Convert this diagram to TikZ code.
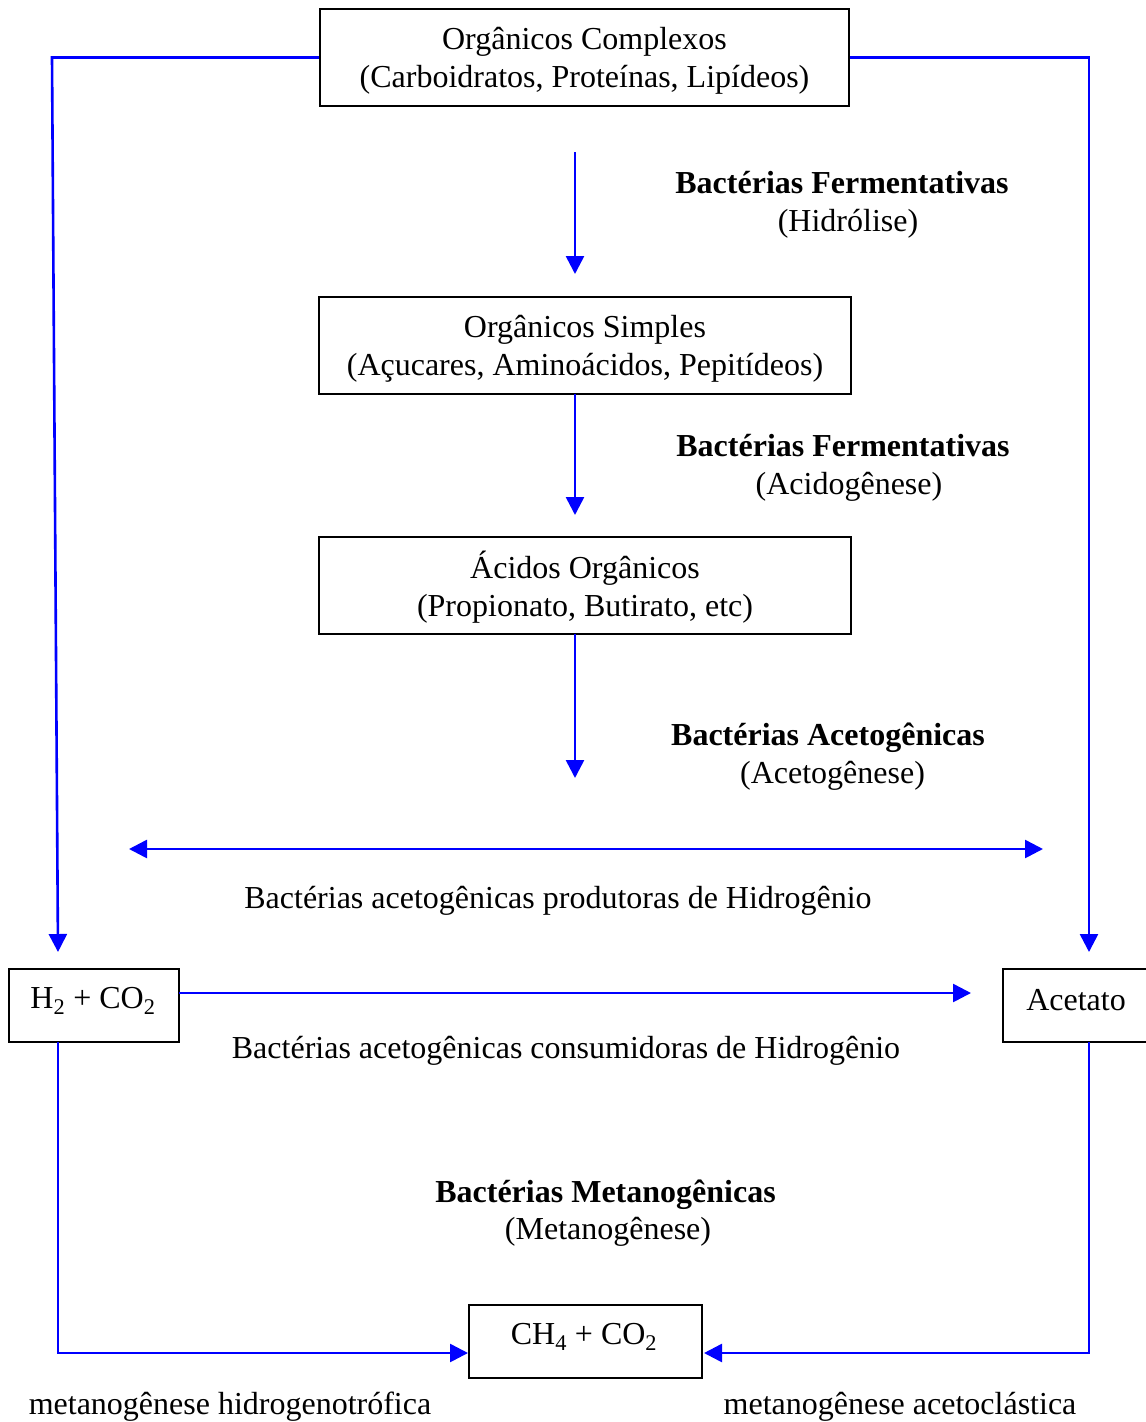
\documentclass[tikz,border=0pt]{standalone}
\usepackage{fontspec}
\setmainfont{Liberation Serif}
\usetikzlibrary{arrows.meta}
\begin{document}
\begin{tikzpicture}[x=1pt,y=-1pt,
  every node/.style={font=\fontsize{32}{37.5}\selectfont, inner sep=0pt, align=center},
  box/.style={draw=black, line width=2.5pt},
  link/.style={draw=blue, line width=2.6pt},
  arr/.style={link, -{Triangle[length=18pt,width=18pt]}},
  darr/.style={link, {Triangle[length=18pt,width=18pt]}-{Triangle[length=18pt,width=18pt]}},
  lbl/.style={}]
\useasboundingbox (0,0) rectangle (1146,1422);
% boxes
\node[box, minimum width=529pt, minimum height=97pt] (b1) at (584.5,57.5) {};
\node[box, minimum width=532pt, minimum height=97pt] (b2) at (585,345.5) {};
\node[box, minimum width=532pt, minimum height=97pt] (b3) at (585,585.5) {};
\node[box, minimum width=170pt, minimum height=73pt] (h2) at (94,1005.5) {};
\node[box, minimum width=146pt, minimum height=73pt] (ac) at (1076,1005.5) {};
\node[box, minimum width=233pt, minimum height=73pt] (ch4) at (585.5,1341.5) {};
% box texts
\node (t1) at (584.5,61) {Orgânicos Complexos\\(Carboidratos, Proteínas, Lipídeos)};
\node (t2) at (585,349) {Orgânicos Simples\\(Açucares, Aminoácidos, Pepitídeos)};
\node (t3) at (585,587) {Ácidos Orgânicos\\(Propionato, Butirato, etc)};
\node (t4) at (93,1001) {H\textsubscript{2} + CO\textsubscript{2}};
\node (t5) at (1076,1000) {Acetato};
\node (t6) at (584,1337) {CH\textsubscript{4} + CO\textsubscript{2}};
% labels
\node[lbl] (l1) at (842,205) {\textbf{Bactérias Fermentativas}\\\hspace*{12pt}(Hidrólise)};
\node[lbl] (l2) at (843,468) {\textbf{Bactérias Fermentativas}\\\hspace*{12pt}(Acidogênese)};
\node[lbl] (l3) at (828,756.5) {\textbf{Bactérias Acetogênicas}\\\hspace*{9pt}(Acetogênese)};
\node[lbl] (l4) at (558,901) {Bactérias acetogênicas produtoras de Hidrogênio};
\node[lbl] (l5) at (566,1051) {Bactérias acetogênicas consumidoras de Hidrogênio};
\node[lbl] (l6) at (605.5,1213) {\textbf{Bactérias Metanogênicas}\\\hspace*{5pt}(Metanogênese)};
\node[lbl] (l7) at (230,1407) {metanogênese hidrogenotrófica};
\node[lbl] (l8) at (900,1407) {metanogênese acetoclástica};
% coordinates
\coordinate (lt) at (52,57.5);
\coordinate (lb) at (58,952);
\coordinate (rt) at (1089,57.5);
\coordinate (rb) at (1089,952);
\coordinate (a1s) at (575,152);
\coordinate (a1e) at (575,274);
\coordinate (a2s) at (575,394);
\coordinate (a2e) at (575,515);
\coordinate (a3s) at (575,634);
\coordinate (a3e) at (575,778);
\coordinate (dl) at (129,849);
\coordinate (dr) at (1043,849);
\coordinate (hs) at (179,993);
\coordinate (he) at (971,993);
\coordinate (hd1) at (58,1042);
\coordinate (hd2) at (58,1353);
\coordinate (hd3) at (468,1353);
\coordinate (ad1) at (1089,1042);
\coordinate (ad2) at (1089,1353);
\coordinate (ad3) at (704,1353);
% connectors
\draw[arr] (b1.west) -- (lt) -- (lb);
\draw[arr] (b1.east) -- (rt) -- (rb);
\draw[arr] (a1s) -- (a1e);
\draw[arr] (a2s) -- (a2e);
\draw[arr] (a3s) -- (a3e);
\draw[darr] (dl) -- (dr);
\draw[arr] (hs) -- (he);
\draw[arr] (hd1) -- (hd2) -- (hd3);
\draw[arr] (ad1) -- (ad2) -- (ad3);
\end{tikzpicture}
\end{document}
